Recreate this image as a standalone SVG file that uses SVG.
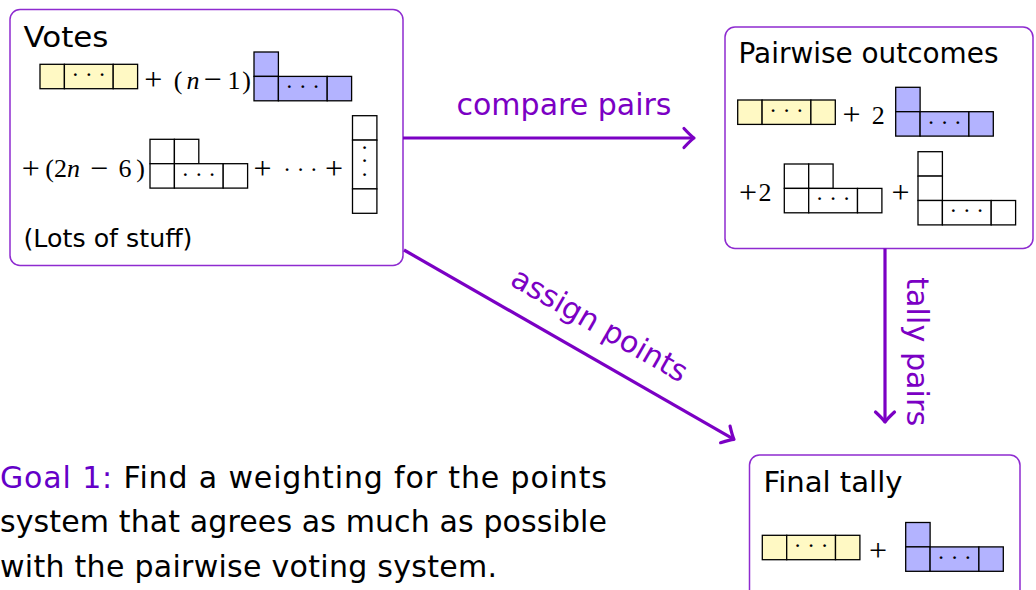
<svg xmlns="http://www.w3.org/2000/svg" xmlns:xlink="http://www.w3.org/1999/xlink" width="1036" height="590" viewBox="0 0 1036 590">
<style>
.box{fill:#fff;stroke:#8E2BD0;stroke-width:1.5}
.cell{stroke:#000;stroke-width:1.3}
.y{fill:#FFF9C4}
.b{fill:#B3B3FF}
.w{fill:#fff}
.t{font-family:"DejaVu Sans",sans-serif;fill:#000}
.m{font-family:"Liberation Serif",serif;font-size:26px;text-anchor:middle;fill:#000}
.op{font-size:32px}
.it{font-style:italic}
.dots{font-family:"Liberation Serif",serif;font-size:23px;text-anchor:middle;fill:#000}
.arr{stroke:#7B00C4;stroke-width:3.2;fill:none}
.lbl{font-family:"DejaVu Sans",sans-serif;font-size:30px;fill:#7B00C4;text-anchor:middle}
.goal{font-family:"DejaVu Sans",sans-serif;font-size:30px;fill:#000}
</style>
<defs>
<marker id="to" markerUnits="userSpaceOnUse" viewBox="-14 -14 18 28" refX="0" refY="0" markerWidth="18" markerHeight="28" orient="auto" overflow="visible">
<path d="M-10,-9.5 Q-3,-2 0,0 Q-3,2 -10,9.5" fill="none" stroke="#7B00C4" stroke-width="3.2" stroke-linecap="round" stroke-linejoin="round"/>
</marker>
<g id="yrow">
<rect class="cell y" x="0" y="0" width="24.4" height="24.4"/>
<rect class="cell y" x="24.4" y="0" width="48.8" height="24.4"/>
<rect class="cell y" x="73.2" y="0" width="24.4" height="24.4"/>
<text class="dots" x="48.8" y="18">· · ·</text>
</g>
<g id="bhook">
<rect class="cell b" x="0" y="0" width="24.4" height="24.4"/>
<rect class="cell b" x="0" y="24.4" width="24.4" height="24.4"/>
<rect class="cell b" x="24.4" y="24.4" width="48.8" height="24.4"/>
<rect class="cell b" x="73.2" y="24.4" width="24.4" height="24.4"/>
<text class="dots" x="48.8" y="42.4">· · ·</text>
</g>
<g id="wtwo">
<rect class="cell w" x="0" y="0" width="24.4" height="24.4"/>
<rect class="cell w" x="24.4" y="0" width="24.4" height="24.4"/>
<rect class="cell w" x="0" y="24.4" width="24.4" height="24.4"/>
<rect class="cell w" x="24.4" y="24.4" width="48.8" height="24.4"/>
<rect class="cell w" x="73.2" y="24.4" width="24.4" height="24.4"/>
<text class="dots" x="48.8" y="42.4">· · ·</text>
</g>
<g id="wthree">
<rect class="cell w" x="0" y="0" width="24.4" height="24.4"/>
<rect class="cell w" x="0" y="24.4" width="24.4" height="24.4"/>
<rect class="cell w" x="0" y="48.8" width="24.4" height="24.4"/>
<rect class="cell w" x="24.4" y="48.8" width="48.8" height="24.4"/>
<rect class="cell w" x="73.2" y="48.8" width="24.4" height="24.4"/>
<text class="dots" x="48.8" y="66.8">· · ·</text>
</g>
<g id="col">
<rect class="cell w" x="0" y="0" width="24.4" height="24.4"/>
<rect class="cell w" x="0" y="24.4" width="24.4" height="48.8"/>
<rect class="cell w" x="0" y="73.2" width="24.4" height="24.4"/>
<text class="dots" x="12.2" y="39.3">·</text>
<text class="dots" x="12.2" y="52.8">·</text>
<text class="dots" x="12.2" y="66.3">·</text>
</g>
</defs>

<g id="votes">
<rect class="box" x="10" y="9.5" width="393" height="256" rx="10"/>
<text class="t" x="23.5" y="46.5" font-size="29" textLength="85" lengthAdjust="spacingAndGlyphs">Votes</text>
<use href="#yrow" x="40" y="64.3"/>
<text class="m op" x="153.3" y="89.5">+</text>
<text class="m" x="178" y="88.5">(</text>
<text class="m it" x="193" y="88.5">n</text>
<text class="m op" x="212.5" y="89.5">−</text>
<text class="m" x="234" y="88.5">1</text>
<text class="m" x="246.5" y="88.5">)</text>
<use href="#bhook" x="254" y="52"/>
<text class="m op" x="30.8" y="178.5">+</text>
<text class="m" x="49.5" y="176.5">(</text>
<text class="m" x="60.5" y="176.5">2</text>
<text class="m it" x="73.5" y="176.5">n</text>
<text class="m op" x="99" y="178.5">−</text>
<text class="m" x="125" y="176.5">6</text>
<text class="m" x="140.5" y="176.5">)</text>
<use href="#wtwo" x="150" y="139.3"/>
<text class="m op" x="262.5" y="178.5">+</text>
<text class="dots" x="300.5" y="177">· · ·</text>
<text class="m op" x="334" y="178.5">+</text>
<use href="#col" x="352.5" y="115.7"/>
<text class="t" x="23.5" y="246.5" font-size="25" textLength="169" lengthAdjust="spacingAndGlyphs">(Lots of stuff)</text>
</g>

<g id="pairwise">
<rect class="box" x="725" y="27" width="308" height="221.5" rx="10"/>
<text class="t" x="738.5" y="62.5" font-size="29" textLength="260" lengthAdjust="spacingAndGlyphs">Pairwise outcomes</text>
<use href="#yrow" x="737.7" y="100"/>
<text class="m op" x="851.5" y="125">+</text>
<text class="m" x="878.3" y="123.5">2</text>
<use href="#bhook" x="895.7" y="87.3"/>
<text class="m op" x="748" y="202.5">+</text>
<text class="m" x="765" y="201">2</text>
<use href="#wtwo" x="784.3" y="164"/>
<text class="m op" x="900.5" y="202.5">+</text>
<use href="#wthree" x="918" y="151.7"/>
</g>

<g id="final">
<rect class="box" x="749.5" y="455" width="270.5" height="160" rx="10"/>
<text class="t" x="763.5" y="491.5" font-size="29" textLength="139" lengthAdjust="spacingAndGlyphs">Final tally</text>
<use href="#yrow" x="762.3" y="535.3"/>
<text class="m op" x="878" y="561">+</text>
<use href="#bhook" x="905.7" y="522.5"/>
</g>

<g id="connectors">
<path class="arr" d="M403,138 H694" marker-end="url(#to)"/>
<text class="lbl" x="564" y="115" textLength="215" lengthAdjust="spacingAndGlyphs">compare pairs</text>
<path class="arr" d="M404,250 L734,439.4" marker-end="url(#to)"/>
<text class="lbl" transform="translate(598.7,326.5) rotate(29.9)" x="0" y="8.2" textLength="198" lengthAdjust="spacingAndGlyphs">assign points</text>
<path class="arr" d="M885,248.5 V422" marker-end="url(#to)"/>
<text class="lbl" transform="translate(907,351.7) rotate(90)" x="0" y="0" textLength="149" lengthAdjust="spacingAndGlyphs">tally pairs</text>
</g>

<g id="goal">
<text class="goal" x="0" y="487.5" textLength="607" lengthAdjust="spacing"><tspan fill="#6400C8">Goal 1:</tspan> Find a weighting for the points</text>
<text class="goal" x="0" y="532" textLength="607" lengthAdjust="spacing">system that agrees as much as possible</text>
<text class="goal" x="0" y="576.5" textLength="497" lengthAdjust="spacing">with the pairwise voting system.</text>
</g>
</svg>
